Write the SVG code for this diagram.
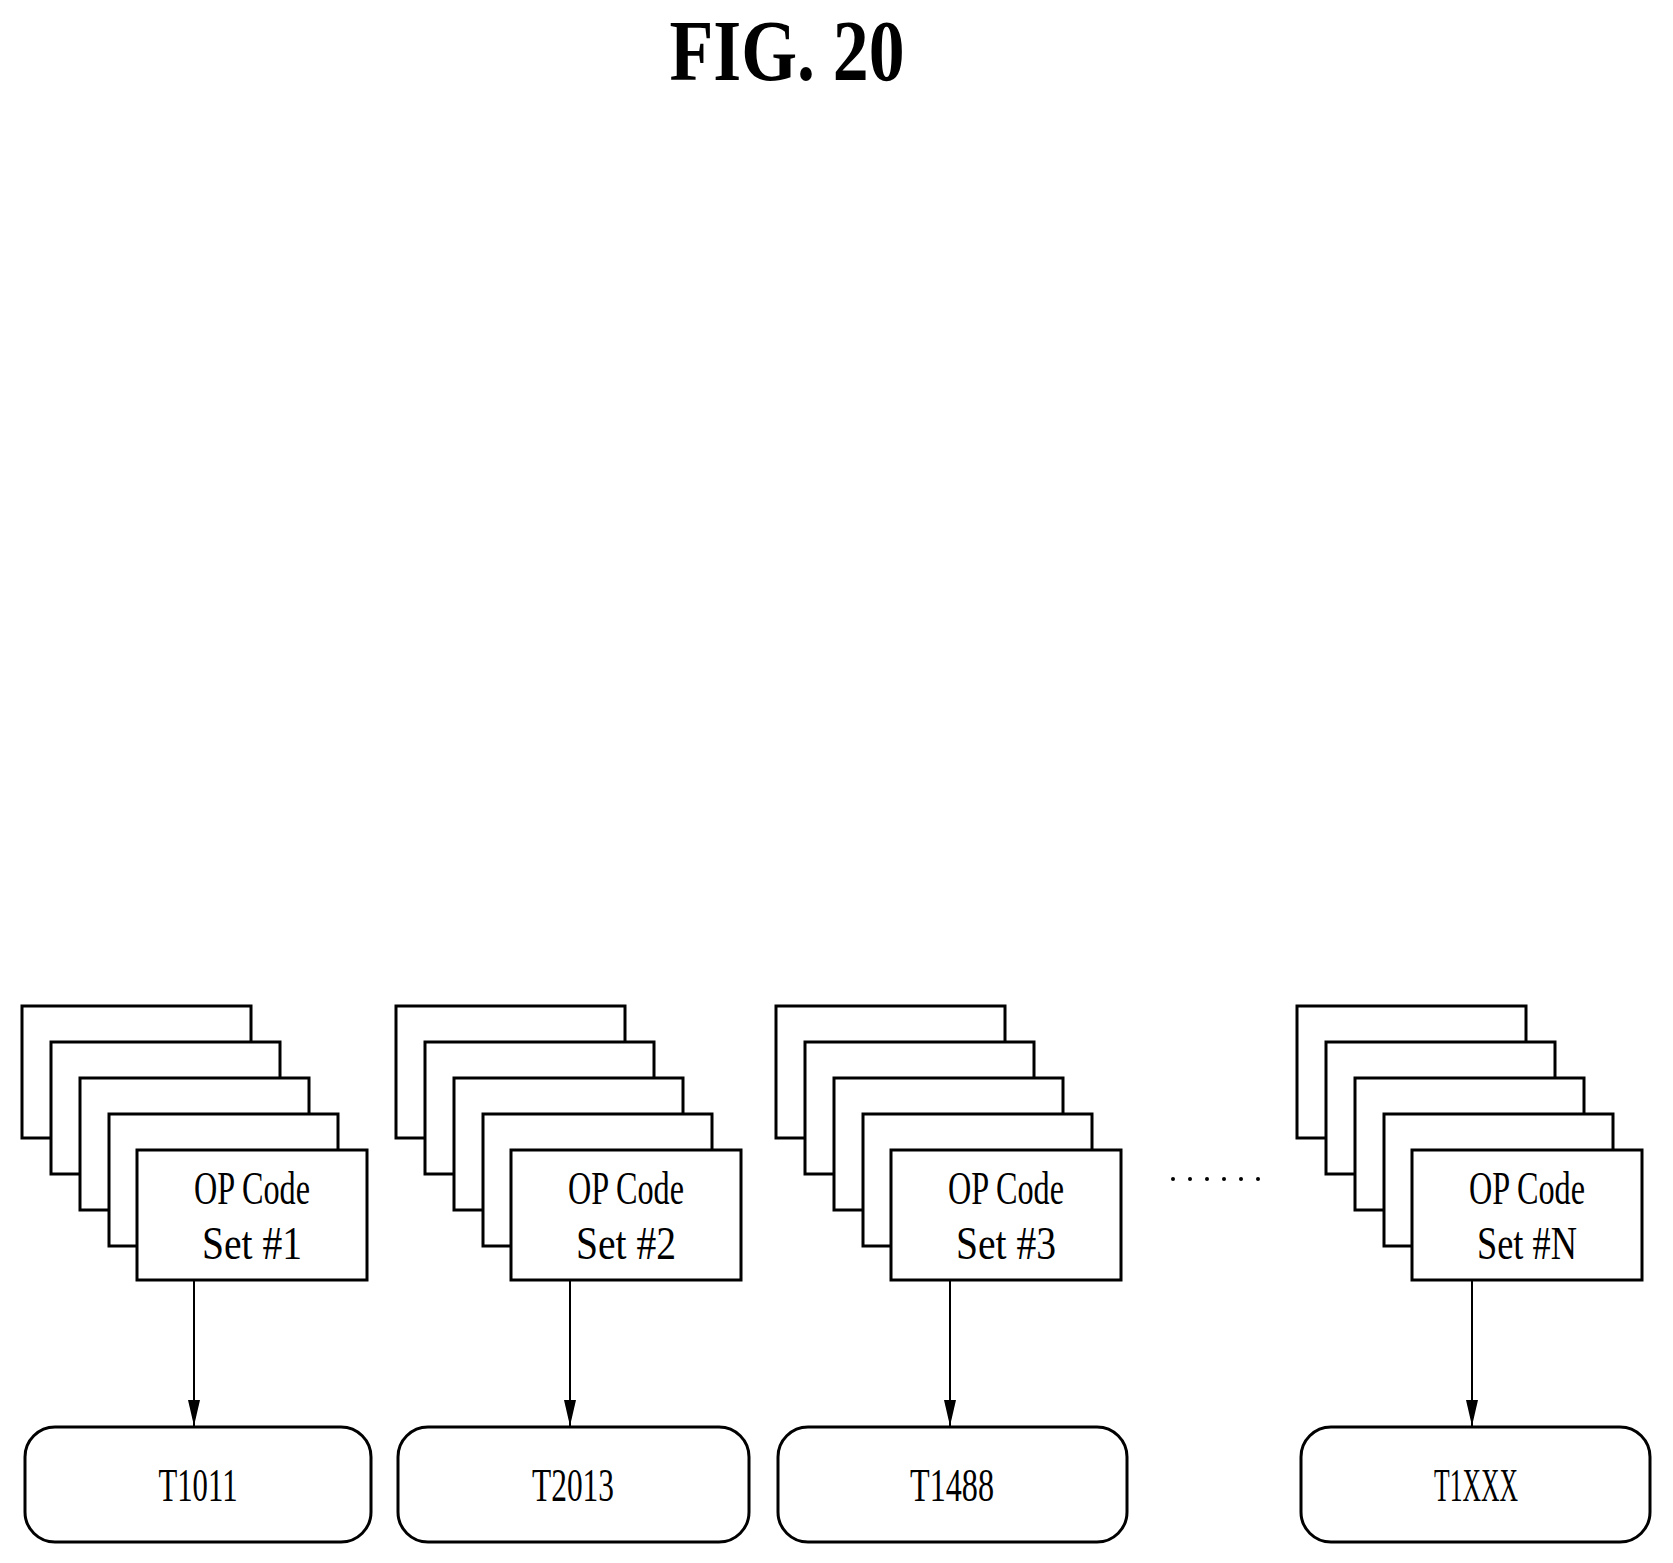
<svg xmlns="http://www.w3.org/2000/svg" width="1673" height="1563" viewBox="0 0 1673 1563">
<style>
.c{fill:#fff;stroke:#000;stroke-width:3}
.t{font-family:"Liberation Serif",serif;font-size:46px;text-anchor:middle;fill:#000}
.h{font-family:"Liberation Serif",serif;font-size:86px;font-weight:bold;fill:#000;text-anchor:middle}
</style>
<defs>
<marker id="a" markerWidth="26" markerHeight="12" refX="26" refY="6" orient="auto" markerUnits="userSpaceOnUse" viewBox="0 0 26 12"><path d="M0,0 L26,6 L0,12 Z" fill="#000"/></marker>
<g id="stack">
<rect class="c" x="0" y="0" width="229" height="132"/>
<rect class="c" x="29" y="36" width="229" height="132"/>
<rect class="c" x="58" y="72" width="229" height="132"/>
<rect class="c" x="87" y="108" width="229" height="132"/>
<rect class="c" x="115" y="144" width="230" height="130"/>
</g>
</defs>
<text class="h" x="787" y="80" textLength="235" lengthAdjust="spacingAndGlyphs">FIG. 20</text>
<g id="n1"><use href="#stack" x="22" y="1006"/><text class="t" x="252" y="1204" textLength="116" lengthAdjust="spacingAndGlyphs">OP Code</text><text class="t" x="252" y="1259" textLength="100" lengthAdjust="spacingAndGlyphs">Set #1</text></g>
<g id="n2"><use href="#stack" x="396" y="1006"/><text class="t" x="626" y="1204" textLength="116" lengthAdjust="spacingAndGlyphs">OP Code</text><text class="t" x="626" y="1259" textLength="100" lengthAdjust="spacingAndGlyphs">Set #2</text></g>
<g id="n3"><use href="#stack" x="776" y="1006"/><text class="t" x="1006" y="1204" textLength="116" lengthAdjust="spacingAndGlyphs">OP Code</text><text class="t" x="1006" y="1259" textLength="100" lengthAdjust="spacingAndGlyphs">Set #3</text></g>
<g id="n4"><use href="#stack" x="1297" y="1006"/><text class="t" x="1527" y="1204" textLength="116" lengthAdjust="spacingAndGlyphs">OP Code</text><text class="t" x="1527" y="1259" textLength="100" lengthAdjust="spacingAndGlyphs">Set #N</text></g>
<g id="b1"><rect class="c" x="25" y="1427" width="346" height="115" rx="30"/><text class="t" x="198" y="1501" textLength="79" lengthAdjust="spacingAndGlyphs">T1011</text></g>
<g id="b2"><rect class="c" x="398" y="1427" width="351" height="115" rx="30"/><text class="t" x="573" y="1501" textLength="82" lengthAdjust="spacingAndGlyphs">T2013</text></g>
<g id="b3"><rect class="c" x="778" y="1427" width="349" height="115" rx="30"/><text class="t" x="952" y="1501" textLength="84" lengthAdjust="spacingAndGlyphs">T1488</text></g>
<g id="b4"><rect class="c" x="1301" y="1427" width="349" height="115" rx="30"/><text class="t" x="1476" y="1501" textLength="84" lengthAdjust="spacingAndGlyphs">T1XXX</text></g>
<g id="dots" fill="#000"><circle cx="1173" cy="1179" r="2"/><circle cx="1190" cy="1179" r="2"/><circle cx="1207" cy="1179" r="2"/><circle cx="1224" cy="1179" r="2"/><circle cx="1241" cy="1179" r="2"/><circle cx="1258" cy="1179" r="2"/></g>
<g id="connectors" stroke="#000" stroke-width="2" marker-end="url(#a)">
<line x1="194" y1="1281" x2="194" y2="1426"/>
<line x1="570" y1="1281" x2="570" y2="1426"/>
<line x1="950" y1="1281" x2="950" y2="1426"/>
<line x1="1472" y1="1281" x2="1472" y2="1426"/>
</g>
</svg>
